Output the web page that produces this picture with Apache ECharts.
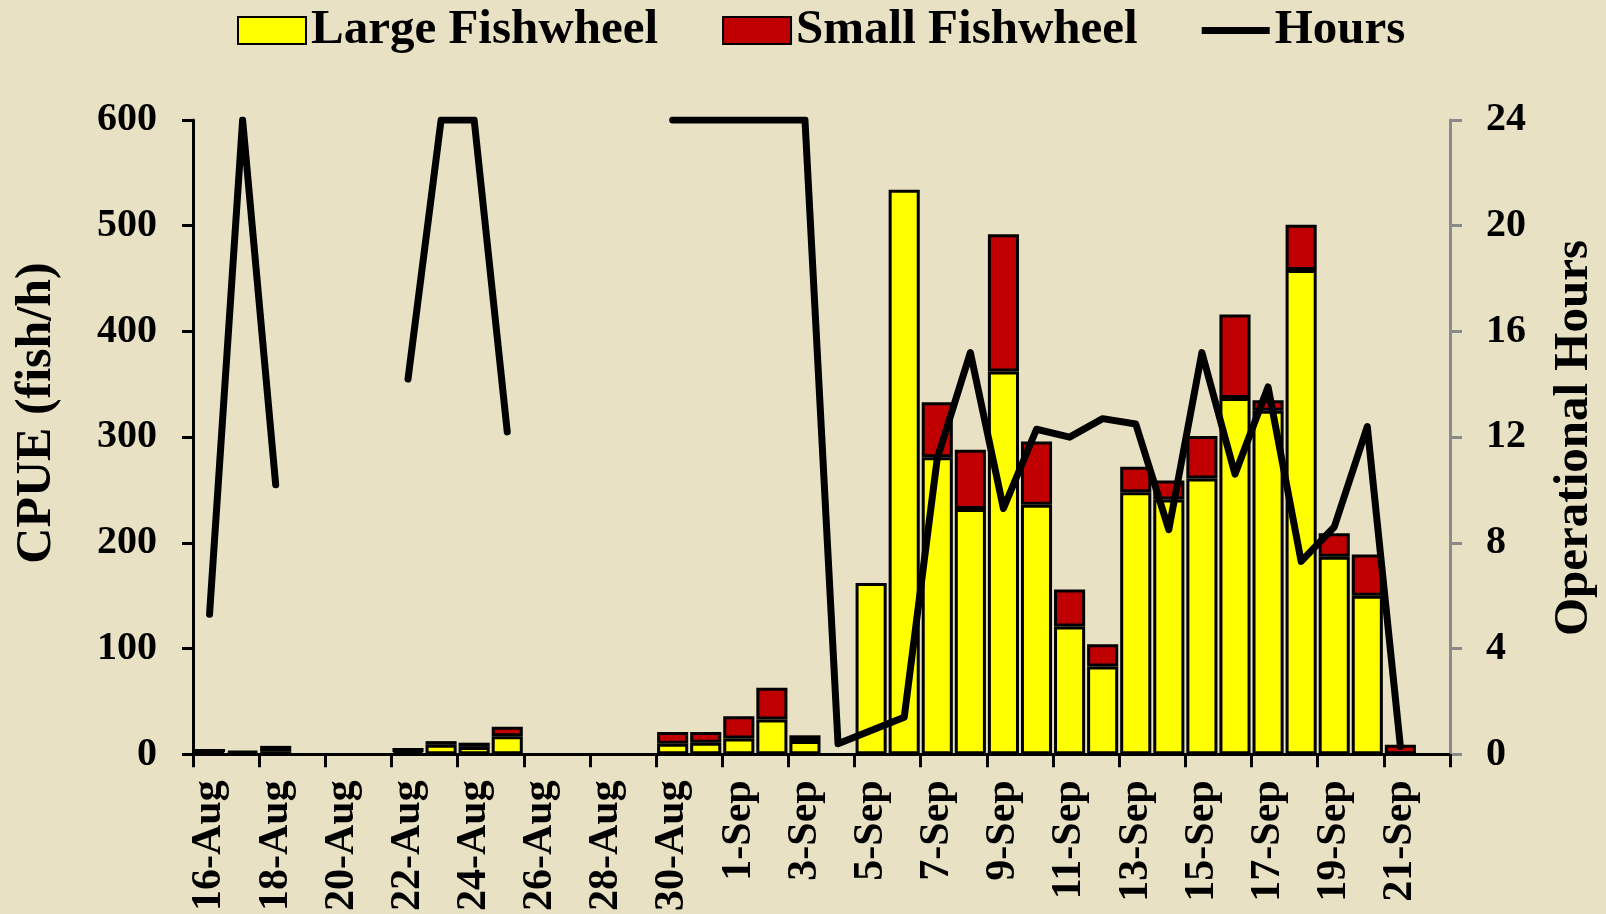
<!DOCTYPE html>
<html>
<head>
<meta charset="utf-8">
<script src="https://cdn.jsdelivr.net/npm/echarts@6/dist/echarts.min.js"></script>
<style>
html,body{margin:0;padding:0;background:#E8E1C4;}
#chart{width:1606px;height:914px;}
</style>
</head>
<body>
<div id="chart"></div>
<script>
const categories = [
  '16-Aug','17-Aug','18-Aug','19-Aug','20-Aug','21-Aug','22-Aug','23-Aug','24-Aug','25-Aug',
  '26-Aug','27-Aug','28-Aug','29-Aug','30-Aug','31-Aug',
  '1-Sep','2-Sep','3-Sep','4-Sep','5-Sep','6-Sep','7-Sep','8-Sep','9-Sep','10-Sep',
  '11-Sep','12-Sep','13-Sep','14-Sep','15-Sep','16-Sep','17-Sep','18-Sep','19-Sep','20-Sep',
  '21-Sep','22-Sep'
];
const largeFishwheel = [
  2, 1.5, 3, null, null, null, 2, 9, 7, 17,
  null, null, null, null, 10, 11,
  15, 33, 12.5, null, 162, 534, 281, 232, 362, 236,
  121, 83, 248, 241, 261, 337, 325, 458, 187, 150,
  null, null
];
const smallFishwheel = [
  3, 1.5, 5, null, null, null, 4, 3.5, 4, 9,
  null, null, null, null, 11, 10,
  21, 30, 5.5, null, null, null, 52, 56, 130, 60,
  35, 21, 24, 18, 40, 79, 10, 43, 22, 39,
  9, null
];
const hours = [
  5.3, 24, 10.2, null, null, null, 14.2, 24, 24, 12.2,
  null, null, null, null, 24, 24,
  24, 24, 24, 0.4, 0.9, 1.4, 11.2, 15.2, 9.3, 12.3,
  12.0, 12.7, 12.5, 8.5, 15.2, 10.6, 13.9, 7.3, 8.6, 12.4,
  0.3, null
];
const cpueTicks = {min: 0, max: 600, interval: 100};
const hourTicks = {min: 0, max: 24, interval: 4};

const FONT = "'Liberation Serif', 'Times New Roman', serif";
const chart = echarts.init(document.getElementById('chart'), null, {renderer: 'canvas'});
const grid = {left: 193, right: 156, top: 120, bottom: 159};

chart.setOption({
  backgroundColor: '#E8E1C4',
  animation: false,
  textStyle: {fontFamily: FONT},
  legend: {
    left: 232, top: 1,
    itemWidth: 68, itemHeight: 27, itemGap: 64,
    textStyle: {fontFamily: FONT, fontSize: 49, fontWeight: 'bold', color: '#000'},
    data: [
      {name: 'Large Fishwheel', icon: 'rect'},
      {name: 'Small Fishwheel', icon: 'rect'},
      {name: 'Hours', icon: 'path://M0,0 L100,0 L100,10 L0,10 Z',
        itemStyle: {color: '#000', borderWidth: 0}}
    ]
  },
  grid: grid,
  xAxis: {
    type: 'category',
    data: categories,
    boundaryGap: true,
    axisLine: {lineStyle: {color: '#000', width: 3}},
    axisTick: {show: true, interval: 1, length: 13, lineStyle: {color: '#000', width: 3}},
    axisLabel: {
      interval: 1, rotate: 90, margin: 26,
      fontFamily: FONT, fontSize: 42, fontWeight: 'bold', color: '#000'
    },
    splitLine: {show: false}
  },
  yAxis: [
    {
      type: 'value', position: 'left',
      min: cpueTicks.min, max: cpueTicks.max, interval: cpueTicks.interval,
      axisLine: {show: true, lineStyle: {color: '#000', width: 3}},
      axisTick: {show: true, length: 11, lineStyle: {color: '#000', width: 3}},
      axisLabel: {margin: 36, fontFamily: FONT, fontSize: 40, fontWeight: 'bold', color: '#000'},
      splitLine: {show: false}
    },
    {
      type: 'value', position: 'right',
      min: hourTicks.min, max: hourTicks.max, interval: hourTicks.interval,
      axisLine: {show: true, lineStyle: {color: '#8a8a8a', width: 3}},
      axisTick: {show: true, length: 12, lineStyle: {color: '#8a8a8a', width: 3}},
      axisLabel: {margin: 36, fontFamily: FONT, fontSize: 40, fontWeight: 'bold', color: '#000'},
      splitLine: {show: false}
    }
  ],
  graphic: [
    {
      type: 'text', x: 37, y: 413, rotation: Math.PI / 2,
      style: {text: 'CPUE (fish/h)', fontFamily: FONT, fontSize: 50, fontWeight: 'bold',
        fill: '#000', textAlign: 'center', textVerticalAlign: 'middle'}
    },
    {
      type: 'text', x: 1574, y: 438, rotation: Math.PI / 2,
      style: {text: 'Operational Hours', fontFamily: FONT, fontSize: 49, fontWeight: 'bold',
        fill: '#000', textAlign: 'center', textVerticalAlign: 'middle'}
    }
  ],
  series: [
    {
      name: 'Large Fishwheel', type: 'bar', stack: 'cpue', yAxisIndex: 0,
      barCategoryGap: '6%',
      itemStyle: {color: '#FFFF00', borderColor: '#000', borderWidth: 3},
      data: largeFishwheel
    },
    {
      name: 'Small Fishwheel', type: 'bar', stack: 'cpue', yAxisIndex: 0,
      barCategoryGap: '6%',
      itemStyle: {color: '#C00000', borderColor: '#000', borderWidth: 3},
      data: smallFishwheel
    },
    {
      name: 'Hours', type: 'line', yAxisIndex: 1,
      symbol: 'none', connectNulls: false, z: 5,
      lineStyle: {color: '#000', width: 7, cap: 'round', join: 'round'},
      itemStyle: {color: '#000'},
      data: hours
    }
  ]
});
</script>
</body>
</html>
